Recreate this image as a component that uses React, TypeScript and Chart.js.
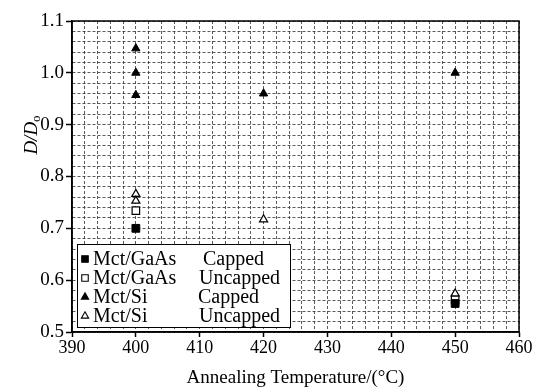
import React, { useEffect, useRef } from 'react';
import { Chart, registerables } from 'chart.js';

Chart.register(...registerables);

// ---- Data ----
const gaasCappedX = [400, 450];
const gaasCappedY = [0.7, 0.555];
const gaasUncappedX = [400, 450];
const gaasUncappedY = [0.734, 0.562];
const siCappedX = [400, 400, 400, 420, 450];
const siCappedY = [1.047, 1.0, 0.957, 0.96, 1.0];
const siUncappedX = [400, 400, 420, 450];
const siUncappedY = [0.766, 0.753, 0.717, 0.574];

const legendNames = ['Mct/GaAs', 'Mct/GaAs', 'Mct/Si', 'Mct/Si'];
const legendStates = ['Capped', 'Uncapped', 'Capped', 'Uncapped'];
const legendShapes = ['rect', 'rect', 'triangle', 'triangle'];
const legendFilled = [true, false, true, false];

const xAxisTitle = 'Annealing Temperature/(°C)';
const yTitleMain = 'D/D';
const yTitleSub = 'o';

const X_MIN = 390;
const X_MAX = 460;
const Y_MIN = 0.5;
const Y_MAX = 1.1;
// grid every 2 °C and every 0.02 (in hundredths)
const xGridTicks: number[] = [];
for (let v = X_MIN; v <= X_MAX; v += 2) xGridTicks.push(v);
const yGridTicks: number[] = [];
for (let v = 50; v <= 110; v += 2) yGridTicks.push(v / 100);

const FONT = "'Liberation Serif', 'Times New Roman', serif";

const isMajorX = (v: number) => Math.abs(v / 10 - Math.round(v / 10)) < 1e-6;
const isMajorY = (v: number) => Math.abs(v * 10 - Math.round(v * 10)) < 1e-6;

function pts(xs: number[], ys: number[]) {
  return xs.map((x, i) => ({ x, y: ys[i] }));
}

function drawMarker(ctx: CanvasRenderingContext2D, shape: string, filled: boolean, cx: number, cy: number, r: number) {
  ctx.beginPath();
  if (shape === 'rect') {
    const s = r * Math.SQRT1_2;
    ctx.rect(cx - s, cy - s, 2 * s, 2 * s);
  } else {
    for (let k = 0; k < 3; k++) {
      const a = (k * 2 * Math.PI) / 3;
      const px = cx + Math.sin(a) * r;
      const py = cy - Math.cos(a) * r;
      if (k === 0) ctx.moveTo(px, py);
      else ctx.lineTo(px, py);
    }
    ctx.closePath();
  }
  ctx.fillStyle = filled ? '#000' : '#fff';
  ctx.fill();
  ctx.lineWidth = 1.1;
  ctx.strokeStyle = '#000';
  ctx.stroke();
}

const decorPlugin = {
  id: 'decor',
  afterDraw(chart: any) {
    const ctx: CanvasRenderingContext2D = chart.ctx;
    const ca = chart.chartArea;
    ctx.save();

    // Legend box
    const lx = ca.left + 5;
    const lw = 213;
    const lh = 83;
    const ly = ca.bottom - 5 - lh;
    ctx.fillStyle = '#fff';
    ctx.fillRect(lx, ly, lw, lh);
    ctx.lineWidth = 1;
    ctx.strokeStyle = '#000';
    ctx.strokeRect(lx + 0.5, ly + 0.5, lw, lh);
    const stateX = [126, 122, 121, 122];
    ctx.font = `20px ${FONT}`;
    ctx.textBaseline = 'alphabetic';
    ctx.textAlign = 'left';
    for (let i = 0; i < legendNames.length; i++) {
      const base = ly + 21 + i * 19;
      drawMarker(ctx, legendShapes[i], legendFilled[i], lx + 8, base - 6, legendShapes[i] === 'rect' ? 4.6 : 4.2);
      ctx.fillStyle = '#000';
      ctx.fillText(legendNames[i], lx + 16, base);
      ctx.fillText(legendStates[i], lx + stateX[i], base);
    }

    // Frame
    ctx.lineWidth = 1.5;
    ctx.strokeStyle = '#000';
    ctx.strokeRect(ca.left, ca.top, ca.right - ca.left, ca.bottom - ca.top);

    // X axis title
    ctx.fillStyle = '#000';
    ctx.font = `19px ${FONT}`;
    ctx.textAlign = 'center';
    ctx.textBaseline = 'alphabetic';
    ctx.fillText(xAxisTitle, (ca.left + ca.right) / 2, chart.height - 4);

    // Y axis title (rotated)
    ctx.translate(37, 135);
    ctx.rotate(-Math.PI / 2);
    ctx.font = `italic 19px ${FONT}`;
    const mainW = ctx.measureText(yTitleMain).width;
    ctx.font = `13px ${FONT}`;
    const subW = ctx.measureText(yTitleSub).width;
    const total = mainW + subW;
    ctx.textAlign = 'left';
    ctx.font = `italic 19px ${FONT}`;
    ctx.fillText(yTitleMain, -total / 2, 0);
    ctx.font = `13px ${FONT}`;
    ctx.fillText(yTitleSub, -total / 2 + mainW, 3);

    ctx.restore();
  },
};

export default function App() {
  const ref = useRef<HTMLCanvasElement>(null);
  useEffect(() => {
    document.body.style.margin = '0';
    const gridColor = 'rgba(50,50,50,0.8)';
    const chart = new Chart(ref.current as HTMLCanvasElement, {
      type: 'scatter',
      data: {
        datasets: [
          {
            label: 'Mct/GaAs Capped',
            data: pts(gaasCappedX, gaasCappedY),
            pointStyle: 'rect',
            pointRadius: 5.5,
            backgroundColor: '#000',
            borderColor: '#000',
            borderWidth: 1,
          },
          {
            label: 'Mct/GaAs Uncapped',
            data: pts(gaasUncappedX, gaasUncappedY),
            pointStyle: 'rect',
            pointRadius: 5.3,
            backgroundColor: '#fff',
            borderColor: '#000',
            borderWidth: 1.2,
          },
          {
            label: 'Mct/Si Uncapped',
            data: pts(siUncappedX, siUncappedY),
            pointStyle: 'triangle',
            pointRadius: 4.7,
            backgroundColor: '#fff',
            borderColor: '#000',
            borderWidth: 1.2,
          },
          {
            label: 'Mct/Si Capped',
            data: pts(siCappedX, siCappedY),
            pointStyle: 'triangle',
            pointRadius: 4.8,
            backgroundColor: '#000',
            borderColor: '#000',
            borderWidth: 1,
          },
        ],
      },
      options: {
        responsive: false,
        animation: false,
        devicePixelRatio: 1,
        layout: { padding: { left: 0, right: 17, top: 21, bottom: 0 } },
        plugins: {
          legend: { display: false },
          tooltip: { enabled: false },
          title: { display: false },
        },
        scales: {
          x: {
            type: 'linear',
            min: X_MIN,
            max: X_MAX,
            afterBuildTicks: (scale: any) => {
              scale.ticks = xGridTicks.map((v) => ({ value: v }));
            },
            afterFit: (scale: any) => {
              scale.height = 55;
            },
            ticks: {
              autoSkip: false,
              maxRotation: 0,
              minRotation: 0,
              padding: 0,
              color: '#000',
              font: { family: FONT, size: 18 },
              callback: (v: any) => (isMajorX(Number(v)) ? String(Math.round(Number(v))) : ''),
            },
            grid: {
              color: gridColor,
              lineWidth: 1,
              tickLength: 5,
              tickWidth: 1.5,
              tickColor: (c: any) => (c.tick && isMajorX(c.tick.value) ? '#000' : 'rgba(0,0,0,0)'),
            },
            border: { display: true, color: '#000', width: 1.5, dash: [3, 2] },
          },
          y: {
            type: 'linear',
            min: Y_MIN,
            max: Y_MAX,
            afterBuildTicks: (scale: any) => {
              scale.ticks = yGridTicks.map((v) => ({ value: v }));
            },
            afterFit: (scale: any) => {
              scale.width = 72;
            },
            ticks: {
              autoSkip: false,
              padding: 2,
              color: '#000',
              font: { family: FONT, size: 19 },
              callback: (v: any) => (isMajorY(Number(v)) ? Number(v).toFixed(1) : ''),
            },
            grid: {
              color: gridColor,
              lineWidth: 1,
              tickLength: 6,
              tickWidth: 1.5,
              tickColor: (c: any) => (c.tick && isMajorY(c.tick.value) ? '#000' : 'rgba(0,0,0,0)'),
            },
            border: { display: true, color: '#000', width: 1.5, dash: [3, 2] },
          },
        },
      },
      plugins: [decorPlugin],
    } as any);
    return () => chart.destroy();
  }, []);
  return (
    <div style={{ position: 'absolute', left: 0, top: 0, width: 536, height: 387, background: '#fff' }}>
      <canvas ref={ref} width={536} height={387} style={{ display: 'block', width: 536, height: 387 }} />
    </div>
  );
}
